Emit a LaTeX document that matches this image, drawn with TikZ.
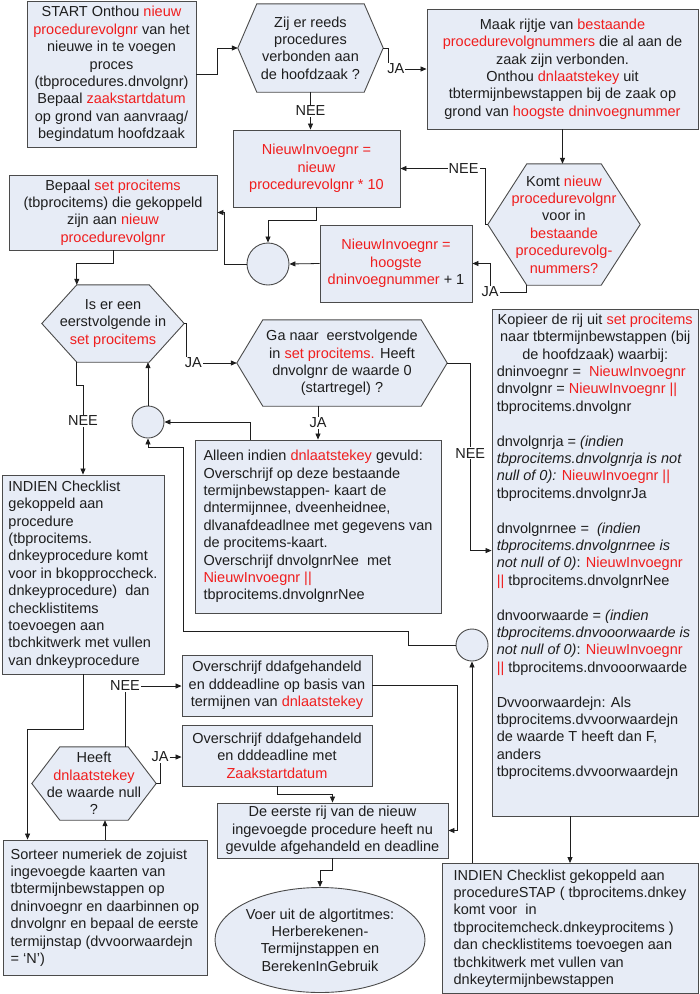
\documentclass[tikz,border=0pt]{standalone}
\usepackage{fontspec}
\setmainfont{Liberation Sans}
\usetikzlibrary{shapes.geometric,arrows.meta,calc}
\pgfdeclarelayer{bg}
\pgfsetlayers{bg,main}
\definecolor{boxfill}{RGB}{231,236,246}
\definecolor{edge}{RGB}{75,75,75}
\definecolor{vred}{RGB}{240,30,30}
\definecolor{ink}{RGB}{30,30,30}
\newcommand\rd[1]{\textcolor{vred}{#1}}
\newcommand\hexshape[2]{\draw[hexline] (#1.west) -- ($(#1.north west)+(#2,0)$) -- ($(#1.north east)+(-#2,0)$) -- (#1.east) -- ($(#1.south east)+(-#2,0)$) -- ($(#1.south west)+(#2,0)$) -- cycle;}
\tikzset{
  every node/.style={font=\fontsize{14.5}{17.4}\selectfont, text=ink},
  box/.style={draw=edge, fill=boxfill, line width=0.9pt, inner sep=1pt, align=center},
  lbox/.style={box, align=left},
  hexnode/.style={inner sep=0pt, align=center},
  hexline/.style={draw=edge, fill=boxfill, line width=0.9pt},
  junction/.style={circle, draw=edge, fill=boxfill, line width=0.9pt, inner sep=0pt},
  conn/.style={draw=ink, line width=0.8pt},
  arr/.style={conn, -{Triangle[length=6pt,width=5pt]}},
  lbl/.style={fill=white, inner sep=1pt}
}
\begin{document}
\begin{tikzpicture}[x=1pt,y=-1pt]
\useasboundingbox (0,0) rectangle (700,994);

% boxes
\node[box, minimum width=169pt, minimum height=146pt] (start) at (111.5,74)
 {START Onthou \rd{nieuw}\\ \rd{procedurevolgnr} van het\\ nieuwe in te voegen\\ proces\\ (tbprocedures.dnvolgnr)\\ Bepaal \rd{zaakstartdatum}\\ op grond van aanvraag/\\ begindatum hoofdzaak};

\node[hexnode, minimum width=145pt, minimum height=88pt] (hex1) at (310.5,48)
 {Zij er reeds\\ procedures\\ verbonden aan\\ de hoofdzaak ?};

\node[box, minimum width=271pt, minimum height=120pt] (box3) at (562.5,69)
 {Maak rijtje van \rd{bestaande}\\ \rd{procedurevolgnummers} die al aan de\\ zaak zijn verbonden.\\ Onthou \rd{dnlaatstekey} uit\\ tbtermijnbewstappen bij de zaak op\\ grond van \rd{hoogste dninvoegnummer}};

\node[box, minimum width=167pt, minimum height=77pt] (box2) at (316.5,168.5)
 {\rd{NieuwInvoegnr =}\\ \rd{nieuw}\\ \rd{procedurevolgnr * 10}};

\node[hexnode, minimum width=152pt, minimum height=121pt] (komt) at (564,224.5)
 {Komt \rd{nieuw}\\ \rd{procedurevolgnr}\\ voor in\\ \rd{bestaande}\\ \rd{procedurevolg-}\\ \rd{nummers?}};

\node[box, minimum width=152pt, minimum height=77pt] (box4) at (396,263.5)
 {\rd{NieuwInvoegnr =}\\ \rd{hoogste}\\ \rd{dninvoegnummer} + 1};

\node[junction, minimum size=42pt] (c1) at (268,264) {};

\node[box, minimum width=208pt, minimum height=75pt] (box5) at (113,212.5)
 {Bepaal \rd{set procitems}\\ (tbprocitems) die gekoppeld\\ zijn aan \rd{nieuw}\\ \rd{procedurevolgnr}};

\node[hexnode, minimum width=142pt, minimum height=77pt] (hex2) at (113,323.5)
 {Is er een\\ eerstvolgende in\\ \rd{set procitems}};

\node[hexnode, minimum width=210pt, minimum height=86pt] (hex3) at (342,363)
 {Ga naar\ \ eerstvolgende\\ in \rd{set procitems.} Heeft\\ dnvolgnr de waarde 0\\ (startregel) ?};

\node[junction, minimum size=32pt] (c3) at (148,422) {};

\node[lbox, minimum width=246pt, minimum height=173pt] (box6) at (318,526.5)
 {Alleen indien \rd{dnlaatstekey} gevuld:\\ Overschrijf op deze bestaande\\ termijnbewstappen- kaart de\\ dntermijnnee, dveenheidnee,\\ dlvanafdeadlnee met gegevens van\\ de procitems-kaart.\\ Overschrijf dnvolgnrNee\ \ met\\ \rd{NieuwInvoegnr ||}\\ tbprocitems.dnvolgnrNee};

\node[box, minimum width=206pt, minimum height=507pt] (kop) at (595,562.5) {};
\node[anchor=north west, align=left, inner sep=0pt] (koptext) at ($(kop.north west)+(5,5)$)
 {\makebox[197pt][c]{Kopieer de rij uit \rd{set procitems}}\\
  \makebox[197pt][c]{naar tbtermijnbewstappen (bij}\\
  \makebox[197pt][c]{de hoofdzaak) waarbij:}\\
  dninvoegnr =\ \ \rd{NieuwInvoegnr}\\
  dnvolgnr = \rd{NieuwInvoegnr ||}\\
  tbprocitems.dnvolgnr\\[17.4pt]
  dnvolgnrja = \textit{(indien}\\
  \textit{tbprocitems.dnvolgnrja is not}\\
  \textit{null of 0):} \rd{NieuwInvoegnr ||}\\
  tbprocitems.dnvolgnrJa\\[17.4pt]
  dnvolgnrnee =\ \ \textit{(indien}\\
  \textit{tbprocitems.dnvolgnrnee is}\\
  \textit{not null of 0)}: \rd{NieuwInvoegnr}\\
  \rd{||} tbprocitems.dnvolgnrNee\\[17.4pt]
  dnvoorwaarde = \textit{(indien}\\
  \textit{tbprocitems.dnvooorwaarde is}\\
  \textit{not null of 0)}: \rd{NieuwInvoegnr}\\
  \rd{||} tbprocitems.dnvooorwaarde\\[17.4pt]
  Dvvoorwaardejn: Als\\
  tbprocitems.dvvoorwaardejn\\
  de waarde T heeft dan F,\\
  anders\\
  tbprocitems.dvvoorwaardejn};

\node[lbox, minimum width=162pt, minimum height=199pt] (indien1) at (83,574.5)
 {INDIEN Checklist\\ gekoppeld aan\\ procedure\\ (tbprocitems.\\ dnkeyprocedure komt\\ voor in bkopproccheck.\\ dnkeyprocedure)\ \ dan\\ checklistitems\\ toevoegen aan\\ tbchkitwerk met vullen\\ van dnkeyprocedure};

\node[junction, minimum size=32pt] (c2) at (472,645) {};

\node[box, minimum width=190pt, minimum height=61pt] (box7) at (277,685.5)
 {Overschrijf ddafgehandeld\\ en dddeadline op basis van\\ termijnen van \rd{dnlaatstekey}};

\node[box, minimum width=190pt, minimum height=61pt] (box8) at (277,755.5)
 {Overschrijf ddafgehandeld\\ en dddeadline met\\ \rd{Zaakstartdatum}};

\node[hexnode, minimum width=124pt, minimum height=73pt] (hex4) at (94,783.5)
 {Heeft\\ \rd{dnlaatstekey}\\ de waarde null\\ ?};

\node[box, minimum width=231pt, minimum height=55pt] (box9) at (332.5,830.5)
 {De eerste rij van de nieuw\\ ingevoegde procedure heeft nu\\ gevulde afgehandeld en deadline};

\node[lbox, minimum width=204pt, minimum height=135pt] (sorteer) at (105,907.5)
 {Sorteer numeriek de zojuist\\ ingevoegde kaarten van\\ tbtermijnbewstappen op\\ dninvoegnr en daarbinnen op\\ dnvolgnr en bepaal de eerste\\ termijnstap (dvvoorwaardejn\\ = ‘N’)};

\node[ellipse, draw=edge, fill=boxfill, line width=0.9pt, minimum width=210pt, minimum height=105pt, inner sep=0pt] (ell) at (320,940) {};
\node[align=center, inner sep=0pt] (elltext) at (ell.center)
 {Voer uit de algortitmes:\\ Herberekenen-\\ Termijnstappen en\\ BerekenInGebruik};

\node[lbox, minimum width=256pt, minimum height=130pt] (indien2) at (570,928.5)
 {INDIEN Checklist gekoppeld aan\\ procedureSTAP ( tbprocitems.dnkey\\ komt voor\ \ in\\ tbprocitemcheck.dnkeyprocitems )\\ dan checklistitems toevoegen aan\\ tbchkitwerk met vullen van\\ dnkeytermijnbewstappen};

% white page and hexagon outlines behind their text
\begin{pgfonlayer}{bg}
\fill[white] (0,0) rectangle (700,994);
\hexshape{hex1}{19}
\hexshape{komt}{39}
\hexshape{hex2}{35}
\hexshape{hex3}{26}
\hexshape{hex4}{28}
\end{pgfonlayer}

% connectors
\draw[arr] (start.east) -- ++(21,0) |- (hex1.west);
\draw[arr] (hex1.east) -- ++(5,0) |- node[lbl,pos=0.6]{JA} (box3.west);
\draw[arr] (hex1.south) -- node[lbl]{NEE} (hex1.south |- box2.north);
\draw[arr] (box3.south) -- (box3.south |- komt.north);
\draw[arr] (komt.west) -- ++(-2,0) |- node[lbl,pos=0.63]{NEE} (box2.east);
\node[lbl] (jaK) at (490,292) {JA};
\draw[conn] ($(komt.south west)+(39,0)$) |- (jaK.east);
\draw[arr] (jaK.north) |- (box4.east);
\draw[arr] (box4.west) -- (c1.east);
\draw[arr] (box2.south) -- ++(0,13) -| (c1.north);
\draw[arr] (c1.west) -- ++(-22,0) |- (box5.east);
\draw[arr] (box5.south) -- ++(0,13) -| ($(hex2.north west)+(35,0)$);
\draw[arr] ($(hex2.south west)+(35,0)$) -- ++(0,23) -| node[lbl,pos=0.7]{NEE} (indien1.north);
\draw[arr] (hex2.east) -- ++(2,0) |- node[lbl,pos=0.57]{JA} (hex3.west);
\draw[arr] (box6.north |- hex3.south) -- node[lbl]{JA} (box6.north);
\draw[arr] (hex3.east) -- ++(23,0) |- node[lbl,pos=0.24]{NEE} ($(kop.north west)+(0,242)$);
\draw[arr] ($(box6.north west)+(56,0)$) |- (c3.east);
\draw[arr] (c3.north) -- (c3.north |- hex2.south);
\draw[arr] (c2.west) -| (408,631) -| (183,447) -| (c3.south);
\draw[arr] (c2.south |- indien2.north) -- (c2.south);
\draw[arr] (kop.south -| indien2.north) -- (indien2.north);
\draw[arr] (indien1.south) -- ++(0,55) -| ($(sorteer.north west)+(25,0)$);
\draw[arr] (sorteer.north) -- (sorteer.north |- hex4.south);
\node[lbl] (neeH4) at (125,686) {NEE};
\draw[conn] (neeH4.south) -- (neeH4.south |- hex4.north);
\draw[arr] (neeH4.east) -- (neeH4.east -| box7.west);
\node[lbl] (jaH4) at (160,757) {JA};
\draw[conn] (hex4.east) -| (jaH4.south);
\draw[arr] (jaH4.east) -- (jaH4.east -| box8.west);
\draw[arr] (box7.east) -- ++(85,0) |- (box9.east);
\draw[arr] (box8.south) -- ++(0,8) -| (box9.north);
\draw[arr] (box9.south) -- ++(0,12) -| (ell.north);
\end{tikzpicture}
\end{document}
